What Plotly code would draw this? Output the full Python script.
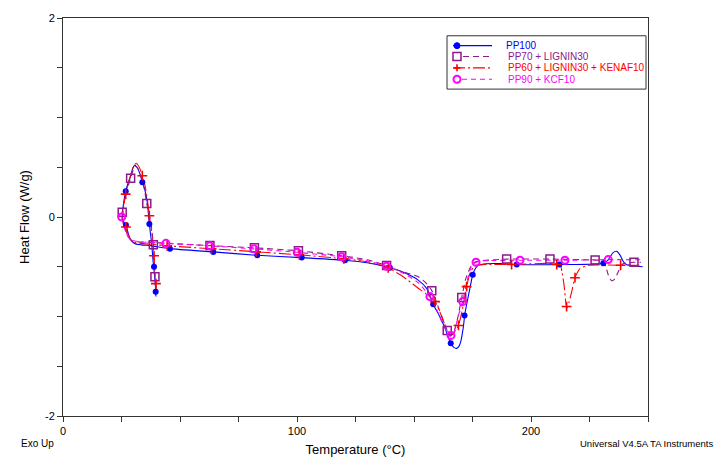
import plotly.graph_objects as go

# ---------------- data ----------------
series_names = ["PP100", "PP70 + LIGNIN30", "PP60 + LIGNIN30 + KENAF10", "PP90 + KCF10"]

pp100_T = [39.7, 39.5, 39.1, 38.6, 37.9, 36.9, 36.0, 34.9, 33.9, 32.8, 31.6, 30.7, 29.8, 28.9, 27.8, 26.8,
           25.9, 25.4, 25.5, 26.2, 26.9, 27.5, 28.2, 29.4, 31.0, 33.5, 38.0, 45.7, 64.2, 83.0, 102.0, 120.5,
           130.0, 139.7, 146.0, 151.8, 155.5, 158.2, 161.0, 163.2, 165.7, 167.0, 168.2, 169.2, 170.0, 171.0,
           171.8, 173.0, 173.9, 175.1, 176.3, 177.5, 181.0, 186.8, 193.9, 212.1, 230.9, 233.0, 235.0, 236.6,
           238.0, 239.5, 241.0, 242.3, 247.7]
pp100_HF = [-0.80, -0.70, -0.58, -0.47, -0.27, -0.07, 0.15, 0.28, 0.35, 0.44, 0.50, 0.52, 0.49, 0.41, 0.34, 0.26,
            0.14, 0.03, -0.03, -0.06, -0.08, -0.13, -0.19, -0.245, -0.27, -0.28, -0.29, -0.318, -0.351, -0.385,
            -0.408, -0.435, -0.46, -0.51, -0.56, -0.634, -0.72, -0.876, -1.0, -1.114, -1.27, -1.31, -1.32, -1.30,
            -1.25, -1.12, -0.965, -0.82, -0.716, -0.58, -0.515, -0.485, -0.47, -0.468, -0.478, -0.478, -0.465,
            -0.43, -0.36, -0.345, -0.38, -0.45, -0.48, -0.485, -0.50]
pp100_mark_T = [26.8, 33.9, 26.9, 36.9, 38.9, 39.6, 45.7, 64.2, 83.0, 102.0, 120.5, 139.7, 158.2, 165.7,
                171.6, 175.1, 193.9, 212.1, 230.9]
pp100_mark_HF = [0.26, 0.35, -0.08, -0.07, -0.50, -0.75, -0.318, -0.351, -0.385, -0.408, -0.435, -0.51, -0.876,
                 -1.27, -0.99, -0.58, -0.478, -0.478, -0.465]

pp70_T = [39.6, 39.3, 38.9, 38.6, 37.6, 35.8, 34.6, 33.5, 32.2, 31.0, 30.0, 28.9, 27.6, 26.4, 25.3, 25.2, 25.8,
          26.8, 27.8, 29.3, 32.0, 38.0, 45.0, 62.8, 81.8, 100.6, 119.1, 130.0, 138.3, 145.0, 151.8, 155.0,
          157.6, 160.0, 162.5, 164.2, 165.5, 166.5, 167.8, 169.0, 170.4, 172.0, 173.8, 175.5, 178.0, 185.0,
          189.6, 208.1, 227.4, 230.9, 232.0, 233.0, 234.4, 235.5, 237.3, 238.5, 239.5, 244.0, 247.0]
pp70_HF = [-0.72, -0.60, -0.45, -0.28, -0.06, 0.135, 0.30, 0.40, 0.48, 0.51, 0.47, 0.39, 0.29, 0.18, 0.047,
           -0.01, -0.07, -0.13, -0.19, -0.235, -0.25, -0.255, -0.265, -0.287, -0.31, -0.34, -0.39, -0.43, -0.488,
           -0.55, -0.60, -0.66, -0.74, -0.88, -1.04, -1.14, -1.19, -1.18, -1.10, -0.98, -0.81, -0.63, -0.52,
           -0.46, -0.44, -0.43, -0.423, -0.423, -0.433, -0.44, -0.50, -0.58, -0.64, -0.63, -0.55, -0.49, -0.468,
           -0.455, -0.455]
pp70_mark_T = [28.9, 25.3, 35.8, 38.6, 39.3, 62.8, 81.8, 100.6, 119.1, 138.3, 157.6, 164.2, 170.4, 189.6,
               208.1, 227.4, 244.0]
pp70_mark_HF = [0.39, 0.047, 0.135, -0.28, -0.60, -0.287, -0.31, -0.34, -0.39, -0.488, -0.74, -1.14, -0.81,
                -0.423, -0.423, -0.433, -0.455]

pp60_T = [39.9, 39.7, 39.2, 38.9, 38.2, 36.9, 36.1, 35.0, 33.9, 32.6, 31.2, 30.2, 29.2, 27.9, 26.8, 25.9,
          25.5, 25.9, 26.9, 27.7, 28.6, 30.0, 33.0, 38.0, 45.0, 64.0, 83.0, 101.0, 120.0, 130.0, 138.0, 145.4,
          151.8, 155.0, 159.0, 161.5, 163.5, 165.4, 166.8, 168.0, 169.0, 170.5, 172.5, 174.0, 176.0, 180.0,
          191.7, 212.4, 213.2, 214.1, 215.0, 215.4, 216.2, 217.4, 218.8, 220.0, 221.0, 224.5, 238.0, 247.5]
pp60_HF = [-0.74, -0.67, -0.52, -0.39, -0.20, 0.013, 0.17, 0.32, 0.415, 0.50, 0.54, 0.51, 0.44, 0.34, 0.23,
           0.10, 0.0, -0.06, -0.10, -0.17, -0.22, -0.25, -0.265, -0.275, -0.29, -0.32, -0.35, -0.38, -0.42,
           -0.45, -0.50, -0.60, -0.716, -0.77, -0.85, -0.98, -1.10, -1.18, -1.17, -1.13, -1.09, -0.95, -0.70,
           -0.56, -0.49, -0.478, -0.478, -0.478, -0.55, -0.68, -0.88, -0.915, -0.86, -0.75, -0.61, -0.55,
           -0.517, -0.485, -0.485, -0.485]
pp60_mark_T = [33.9, 26.8, 36.9, 26.9, 38.9, 39.7, 44.5, 63.5, 82.5, 101.0, 120.0, 139.0, 159.0, 169.0, 172.5,
               191.7, 211.0, 215.2, 218.8, 238.3]
pp60_mark_HF = [0.415, 0.23, 0.013, -0.10, -0.39, -0.67, -0.29, -0.32, -0.35, -0.38, -0.42, -0.51, -0.85, -1.09,
                -0.70, -0.478, -0.478, -0.90, -0.61, -0.485]

pp90_T = [25.1, 25.6, 26.5, 27.8, 29.5, 33.0, 38.0, 44.0, 62.8, 81.6, 100.1, 119.1, 130.0, 138.3, 145.0, 151.8,
          156.8, 159.5, 162.0, 164.0, 165.4, 166.8, 168.0, 169.5, 170.8, 172.5, 174.5, 176.5, 180.0, 195.3,
          214.5, 233.0, 247.5]
pp90_HF = [0.0, -0.06, -0.13, -0.20, -0.235, -0.25, -0.255, -0.265, -0.29, -0.32, -0.355, -0.40, -0.44, -0.495,
           -0.56, -0.66, -0.80, -0.92, -1.06, -1.15, -1.20, -1.17, -1.08, -0.95, -0.85, -0.66, -0.50, -0.455,
           -0.44, -0.435, -0.435, -0.428, -0.43]
pp90_mark_T = [25.1, 44.0, 62.8, 81.6, 100.1, 119.1, 138.3, 156.8, 165.8, 170.8, 176.5, 195.3, 214.5, 233.0]
pp90_mark_HF = [0.0, -0.265, -0.29, -0.32, -0.355, -0.40, -0.495, -0.80, -1.19, -0.85, -0.455, -0.435, -0.435,
                -0.428]

x_tickvals = [0, 25, 50, 75, 100, 125, 150, 175, 200, 225, 250]
x_ticktext = ["0", "", "", "", "100", "", "", "", "200", "", ""]
y_tickvals = [-2, -1.5, -1, -0.5, 0, 0.5, 1, 1.5, 2]
y_ticktext = ["-2", "", "", "", "0", "", "", "", "2"]

# ---------------- styles ----------------
colors = ["#0000ff", "#8b1a8b", "#ff0000", "#ff00ff"]
dashes = ["solid", "6px,4px", "12px,3px,2px,3px", "5px,4px"]
markers = [
    dict(symbol="circle", size=6, color=colors[0]),
    dict(symbol="square-open", size=8, color=colors[1], line=dict(width=1.5, color=colors[1])),
    dict(symbol="cross-thin-open", size=7, color=colors[2], line=dict(width=1.6, color=colors[2])),
    dict(symbol="circle-open", size=7, color=colors[3], line=dict(width=2, color=colors[3])),
]

lines_data = [(pp100_T, pp100_HF), (pp70_T, pp70_HF), (pp60_T, pp60_HF), (pp90_T, pp90_HF)]
marks_data = [(pp100_mark_T, pp100_mark_HF), (pp70_mark_T, pp70_mark_HF),
              (pp60_mark_T, pp60_mark_HF), (pp90_mark_T, pp90_mark_HF)]

fig = go.Figure()
for i, (tx, hy) in enumerate(lines_data):
    fig.add_trace(go.Scatter(x=tx, y=hy, mode="lines", name=series_names[i], legendgroup=series_names[i],
                             line=dict(color=colors[i], width=1.1, dash=dashes[i], shape="spline", smoothing=0.6),
                             showlegend=False, hoverinfo="skip"))
for i, (tx, hy) in enumerate(marks_data):
    fig.add_trace(go.Scatter(x=tx, y=hy, mode="markers", name=series_names[i], legendgroup=series_names[i],
                             marker=markers[i], showlegend=False))

# ---------------- layout ----------------
W, H = 725, 466
ML, MR, MT, MB = 63, 77, 17, 46
PW, PH = W - ML - MR, H - MT - MB


def px(xp):
    return (xp - ML) / PW


def py(yp):
    return (H - MB - yp) / PH


axis_common = dict(showline=True, linecolor="#333333", linewidth=1, mirror=True, ticks="outside",
                   ticklen=5, tickcolor="#333333", showgrid=False, zeroline=False,
                   tickfont=dict(size=11, color="black"))

fig.update_layout(
    width=W, height=H,
    margin=dict(l=ML, r=MR, t=MT, b=MB),
    plot_bgcolor="white", paper_bgcolor="white",
    font=dict(family="Liberation Sans, Arial, sans-serif", color="black"),
    showlegend=False,
    xaxis=dict(range=[0, 250], tickvals=x_tickvals, ticktext=x_ticktext,
               title=dict(text="Temperature (°C)", font=dict(size=13), standoff=8), **axis_common),
    yaxis=dict(range=[-2, 2], tickvals=y_tickvals, ticktext=y_ticktext,
               title=dict(text="Heat Flow (W/g)", font=dict(size=13), standoff=12), **axis_common),
)

# ---------------- manual legend (box, samples, coloured labels) ----------------
shapes = [dict(type="rect", xref="paper", yref="paper", x0=px(447), x1=px(646), y0=py(89), y1=py(35),
               line=dict(color="#333333", width=1), fillcolor="white", layer="above")]
rows = [45, 56, 67.5, 79]
annotations = []
for i, ry in enumerate(rows):
    shapes.append(dict(type="line", xref="paper", yref="paper", x0=px(453), x1=px(492), y0=py(ry), y1=py(ry),
                       line=dict(color=colors[i], width=1.2, dash=dashes[i]), layer="above"))
    annotations.append(dict(xref="paper", yref="paper", x=px(504 if i == 0 else 506), y=py(ry),
                            text=series_names[i], showarrow=False, xanchor="left", yanchor="middle",
                            font=dict(size=10, color=colors[i])))
# legend glyphs
gx = px(457)
shapes.append(dict(type="circle", xref="paper", yref="paper", xsizemode="pixel", ysizemode="pixel",
                   xanchor=gx, yanchor=py(rows[0]), x0=-3, x1=3, y0=-3, y1=3,
                   fillcolor=colors[0], line=dict(color=colors[0], width=1), layer="above"))
shapes.append(dict(type="rect", xref="paper", yref="paper", xsizemode="pixel", ysizemode="pixel",
                   xanchor=gx, yanchor=py(rows[1]), x0=-4, x1=4, y0=-4, y1=4,
                   fillcolor="white", line=dict(color=colors[1], width=1.5), layer="above"))
shapes.append(dict(type="path", xref="paper", yref="paper", xsizemode="pixel", ysizemode="pixel",
                   xanchor=gx, yanchor=py(rows[2]), path="M -3.5 0 L 3.5 0 M 0 -3.5 L 0 3.5",
                   line=dict(color=colors[2], width=1.6), layer="above"))
shapes.append(dict(type="circle", xref="paper", yref="paper", xsizemode="pixel", ysizemode="pixel",
                   xanchor=gx, yanchor=py(rows[3]), x0=-3.5, x1=3.5, y0=-3.5, y1=3.5,
                   fillcolor="white", line=dict(color=colors[3], width=2), layer="above"))

annotations.append(dict(xref="paper", yref="paper", x=px(19), y=py(448), text="Exo Up", showarrow=False,
                        xanchor="left", yanchor="middle", font=dict(size=10, color="black")))
annotations.append(dict(xref="paper", yref="paper", x=px(715), y=py(448), text="Universal V4.5A TA Instruments",
                        showarrow=False, xanchor="right", yanchor="middle", font=dict(size=9.5, color="black")))

fig.update_layout(shapes=shapes, annotations=annotations)
fig.write_html("out.html", config={"displayModeBar": False},
               post_script="document.body.style.margin='0';")
